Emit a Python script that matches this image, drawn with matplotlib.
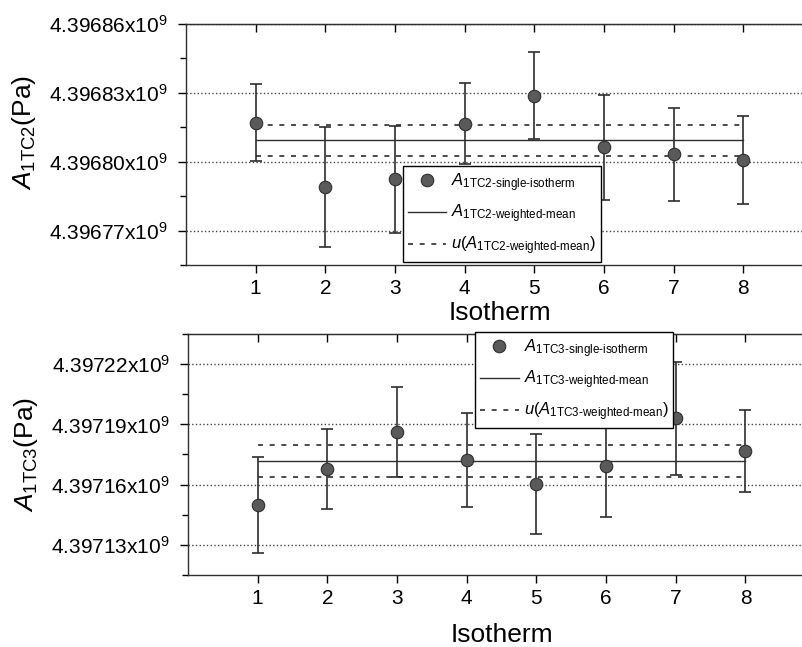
import numpy as np
import matplotlib
matplotlib.use("Agg")
import matplotlib.pyplot as plt
from matplotlib.ticker import MultipleLocator, FuncFormatter
from matplotlib.lines import Line2D

plt.rcParams['font.family'] = ['Liberation Sans', 'DejaVu Sans']
plt.rcParams['mathtext.fontset'] = 'custom'
plt.rcParams['mathtext.rm'] = 'Liberation Sans'
plt.rcParams['mathtext.it'] = 'Liberation Sans:italic'
plt.rcParams['mathtext.bf'] = 'Liberation Sans:bold'

# isotherm numbers
isotherms = [1, 2, 3, 4, 5, 6, 7, 8]

# A_1TC2 per isotherm (Pa) and its uncertainty
a_tc2 = [4.3968170e9, 4.3967890e9, 4.3967924e9, 4.3968166e9,
         4.3968288e9, 4.3968062e9, 4.3968032e9, 4.3968006e9]
err_tc2 = [16700, 26000, 23300, 17500, 18800, 22800, 20400, 19200]
mean_tc2 = 4.3968093e9
u_mean_tc2 = 6900

# A_1TC3 per isotherm (Pa) and its uncertainty
a_tc3 = [4.3971498e9, 4.3971676e9, 4.3971862e9, 4.3971722e9,
         4.3971603e9, 4.3971691e9, 4.3971930e9, 4.3971767e9]
err_tc3 = [23700, 19900, 22300, 23400, 24700, 25200, 28000, 20400]
mean_tc3 = 4.3971718e9
u_mean_tc3 = 7800

ylims = {'tc2': (4.396755e9, 4.39686e9), 'tc3': (4.397115e9, 4.397235e9)}

dark = '#2e2e2e'
marker_face = '#5a5a5a'


def fmt(v, pos):
    return f"{v / 1e9:.5f}x10$^9$"


def draw(ax, vals, errs, mean, u, name, ylim, leg_loc, leg_anchor, labelpad):
    ax.errorbar(isotherms, vals, yerr=errs, fmt='none', ecolor=dark,
                elinewidth=1.2, capsize=4.5, capthick=1.2, zorder=3)
    ax.plot(isotherms, vals, 'o', ms=9, mfc=marker_face, mec=dark, mew=0.8, zorder=4)
    x0, x1 = isotherms[0], isotherms[-1]
    ax.plot([x0, x1], [mean, mean], '-', color=dark, lw=1.0, zorder=2)
    dash = (0, (3, 4))
    ax.plot([x0, x1], [mean + u, mean + u], color=dark, lw=1.2, ls=dash, zorder=2)
    ax.plot([x0, x1], [mean - u, mean - u], color=dark, lw=1.2, ls=dash, zorder=2)

    ax.set_xlim(0, 9)
    ax.set_ylim(*ylim)
    ax.set_xticks(isotherms)
    ax.yaxis.set_major_locator(MultipleLocator(30000))
    ax.yaxis.set_minor_locator(MultipleLocator(15000))
    ax.yaxis.set_major_formatter(FuncFormatter(fmt))
    ax.yaxis.grid(True, which='major', ls=':', color='#444444', lw=1.0)
    ax.set_axisbelow(True)

    ax.tick_params(axis='y', which='major', direction='out', length=6, width=1, labelsize=15, pad=7)
    ax.tick_params(axis='y', which='minor', direction='out', length=4, width=1)
    ax.tick_params(axis='x', which='major', direction='out', length=6, width=1, labelsize=15, pad=4)
    top = ax.secondary_xaxis('top')
    top.set_xticks(isotherms)
    top.tick_params(direction='in', length=6, width=1, labeltop=False)
    top.spines['top'].set_color('#555555')

    for side in ['left', 'bottom', 'top', 'right']:
        ax.spines[side].set_color(dark)
        ax.spines[side].set_linewidth(1.0)

    ax.set_xlabel("Isotherm", fontsize=19, labelpad=labelpad)
    ax.set_ylabel(r"$A_{\mathrm{" + name + r"}}$(Pa)", fontsize=19)

    handles = [
        Line2D([], [], ls='none', marker='o', ms=9, mfc=marker_face, mec=dark, mew=0.8),
        Line2D([], [], ls='-', color=dark, lw=1.0),
        Line2D([], [], ls=(0, (3, 4)), color=dark, lw=1.2),
    ]
    labels = [
        r"$A_{\text{" + name + r"-single-isotherm}}$",
        r"$A_{\text{" + name + r"-weighted-mean}}$",
        r"$u(A_{\text{" + name + r"-weighted-mean}})$",
    ]
    leg = ax.legend(handles, labels, loc=leg_loc, bbox_to_anchor=leg_anchor,
                    fontsize=12, frameon=True, fancybox=False, framealpha=1,
                    edgecolor='black', handlelength=2.3, handletextpad=0.3,
                    borderpad=0.3, labelspacing=0.55, borderaxespad=0)
    leg.get_frame().set_linewidth(1.0)
    leg.set_zorder(5)


fig = plt.figure(figsize=(8.03, 6.47), dpi=100)
ax1 = fig.add_axes([0.2316, 0.5904, 0.781, 0.3725])
ax2 = fig.add_axes([0.2341, 0.1113, 0.781, 0.3725])

draw(ax1, a_tc2, err_tc2, mean_tc2, u_mean_tc2, '1TC2', ylims['tc2'],
     'lower left', (0.346, 0.012), 2)
draw(ax2, a_tc3, err_tc3, mean_tc3, u_mean_tc3, '1TC3', ylims['tc3'],
     'upper left', (0.458, 1.008), 11)

ax1.yaxis.set_label_coords(-0.236, 0.55)
ax2.yaxis.set_label_coords(-0.236, 0.5)

fig.savefig("out.png", dpi=100)
